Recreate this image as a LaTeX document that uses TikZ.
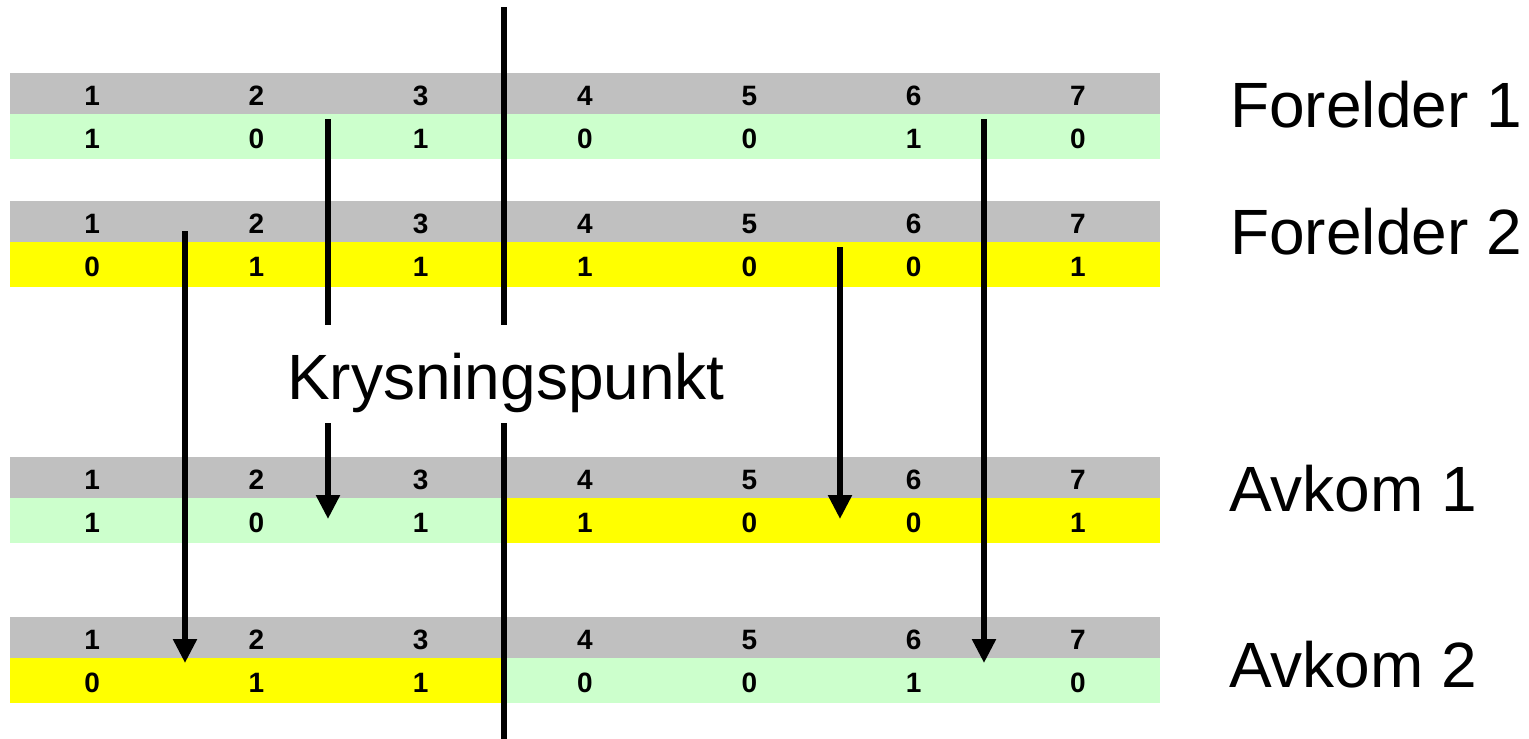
\documentclass[tikz,border=0pt]{standalone}
\usepackage{fontspec}
\setmainfont{Liberation Sans}
\usetikzlibrary{arrows.meta}
\definecolor{cellgray}{RGB}{192,192,192}
\definecolor{cellgreen}{RGB}{204,255,204}
\definecolor{cellyellow}{RGB}{255,255,0}
\tikzset{
  numcell/.style={fill=cellgray, minimum width=165pt, minimum height=42pt,
    inner sep=0pt, text height=23pt, text depth=0pt,
    font=\bfseries\fontsize{28}{32}\selectfont},
  bitcell/.style={minimum width=165pt, minimum height=45pt,
    inner sep=0pt, text height=23pt, text depth=0pt,
    font=\bfseries\fontsize{28}{32}\selectfont},
  rowlabel/.style={anchor=base west, inner sep=0pt, font=\fontsize{64}{76}\selectfont},
  cutline/.style={line width=5.5pt},
  genearrow/.style={line width=5.5pt, -{Triangle[width=23pt,length=24pt]}}
}
% one chromosome: name, top y, bits, colour of genes 1-3, colour of genes 4-7
\newcommand{\chromrow}[5]{%
  \foreach \b [count=\i] in {#3} {
    \pgfmathsetmacro{\cx}{10+(\i-0.5)*164.2857}
    \ifnum\i<4 \def\cc{#4}\else\def\cc{#5}\fi
    \node[numcell, anchor=north] (#1n\i) at (\cx,#2) {\i};
  }
  \foreach \b [count=\i] in {#3} {
    \pgfmathsetmacro{\cx}{10+(\i-0.5)*164.2857}
    \ifnum\i<4 \def\cc{#4}\else\def\cc{#5}\fi
    \node[bitcell, fill=\cc, anchor=north] (#1b\i) at (\cx,#2+41) {\b};
  }
}

\begin{document}
\begin{tikzpicture}[x=1pt, y=-1pt]
  \useasboundingbox (0,0) rectangle (1529,739);

  % Parents
  \chromrow{fa}{73}{1,0,1,0,0,1,0}{cellgreen}{cellgreen}
  \chromrow{fb}{201}{0,1,1,1,0,0,1}{cellyellow}{cellyellow}
  % Offspring
  \chromrow{oa}{457}{1,0,1,1,0,0,1}{cellgreen}{cellyellow}
  \chromrow{ob}{617}{0,1,1,0,0,1,0}{cellyellow}{cellgreen}

  % Labels
  \node[rowlabel] (lfa) at (1230,127) {Forelder 1};
  \node[rowlabel] (lfb) at (1230,254) {Forelder 2};
  \node[rowlabel] (loa) at (1229,511) {Avkom 1};
  \node[rowlabel] (lob) at (1229,687) {Avkom 2};
  \node[rowlabel] (cross) at (287,399) {Krysningspunkt};

  % Crossover point
  \coordinate (cuttop) at (504,7);
  \coordinate (cutbot) at (504,739);
  \draw[cutline] (cuttop) -- (504,325);
  \draw[cutline] (504,423) -- (cutbot);

  % Genes passed on
  \coordinate (fa2) at (328,119);
  \coordinate (oa2) at (328,519);
  \draw[cutline] (fa2) -- (328,325);
  \draw[genearrow] (328,423) -- (oa2);

  \coordinate (fb1) at (185,231);
  \coordinate (ob1) at (185,663);
  \draw[genearrow] (fb1) -- (ob1);

  \coordinate (fb5) at (840,247);
  \coordinate (oa5) at (840,519);
  \draw[genearrow] (fb5) -- (oa5);

  \coordinate (fa6) at (984,119);
  \coordinate (ob6) at (984,663);
  \draw[genearrow] (fa6) -- (ob6);

\end{tikzpicture}
\end{document}
